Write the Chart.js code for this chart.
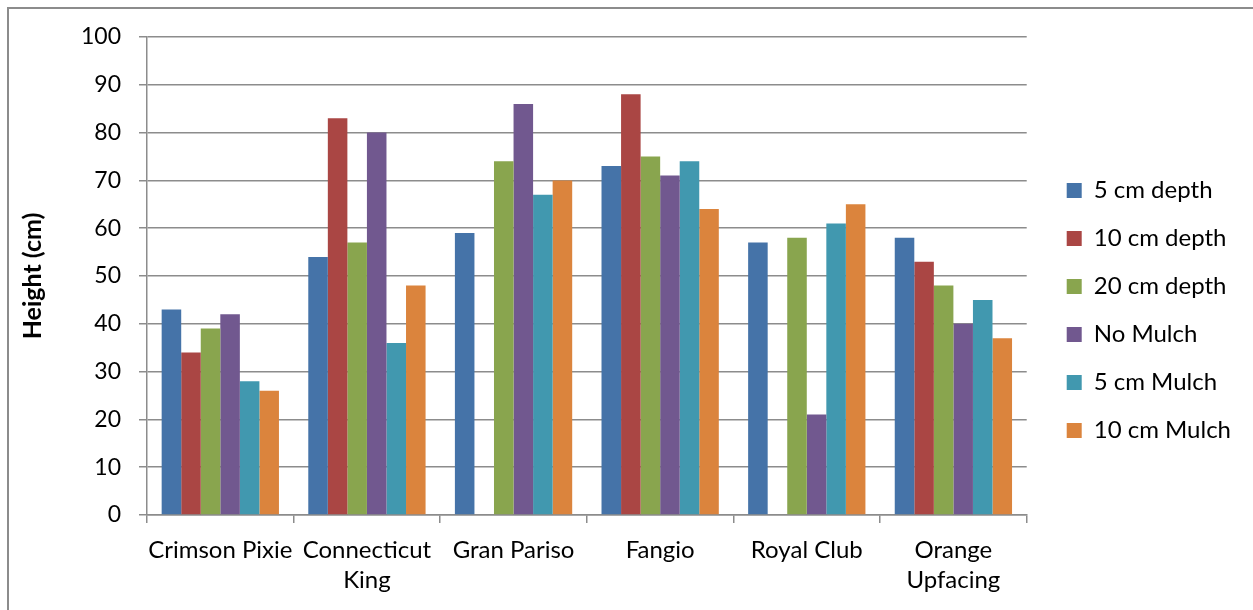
<!DOCTYPE html>
<html>
<head>
<meta charset="utf-8">
<script src="https://cdn.jsdelivr.net/npm/chart.js@4"></script>
<style>
    html, body { margin: 0; padding: 0; background: #fff; }
    #wrap { position: relative; width: 1253px; height: 610px; overflow: hidden; }
    #frame { position: absolute; left: 7px; top: 7px; width: 1300px; height: 700px; border: 2px solid #8c8c8c; }
    canvas { position: absolute; left: 0; top: 0; }
</style>
</head>
<body>
<div id="wrap">
    <div id="frame"></div>
    <canvas id="myChart" width="1253" height="610"></canvas>
</div>
<script>
// 품종 이름 (x축)
const varieties = [
    'Crimson Pixie',
    ['Connecticut', 'King'],
    'Gran Pariso',
    'Fangio',
    'Royal Club',
    ['Orange', 'Upfacing'],
]

// 처리별 높이 (cm), 빈 값은 null
const depth5 = [43, 54, 59, 73, 57, 58]
const depth10 = [34, 83, null, 88, null, 53]
const depth20 = [39, 57, 74, 75, 58, 48]
const noMulch = [42, 80, 86, 71, 21, 40]
const mulch5 = [28, 36, 67, 74, 61, 45]
const mulch10 = [26, 48, 70, 64, 65, 37]

const seriesNames = ['5 cm depth', '10 cm depth', '20 cm depth', 'No Mulch', '5 cm Mulch', '10 cm Mulch']
const yTicks = [0, 10, 20, 30, 40, 50, 60, 70, 80, 90, 100]

const colors = ['#4573A8', '#AA4644', '#89A54E', '#71588F', '#4198AF', '#DB843D']
const allSeries = [depth5, depth10, depth20, noMulch, mulch5, mulch10]

Chart.defaults.font.family = 'Lato, "Open Sans", sans-serif'
Chart.defaults.font.size = 24
Chart.defaults.color = '#000'

const gridColor = '#8c8c8c'

// 범례 위치 살짝 옮기기 (오른쪽으로, 위로)
const legendShift = {
    id: 'legendShift',
    afterLayout: function (chart) {
        const lg = chart.legend
        lg.left += 16
        lg.right += 16
        lg.top -= 13
        lg.bottom -= 13
    },
}

const ctx = document.getElementById('myChart').getContext('2d')
const myChart = new Chart(ctx, {
    type: 'bar',
    data: {
        labels: varieties,
        datasets: seriesNames.map(function (name, i) {
            return {
                label: name,
                data: allSeries[i],
                backgroundColor: colors[i],
                borderWidth: 0,
            }
        }),
    },
    plugins: [legendShift],
    options: {
        responsive: false,
        animation: false,
        layout: {
            padding: { left: 18, top: 37, right: 28, bottom: 0 },
        },
        datasets: {
            bar: {
                categoryPercentage: 0.8,
                barPercentage: 1.0,
            },
        },
        plugins: {
            tooltip: { enabled: false },
            legend: {
                position: 'right',
                labels: {
                    boxWidth: 15,
                    boxHeight: 15,
                    padding: 24,
                    font: { size: 24 },
                },
            },
        },
        scales: {
            x: {
                grid: {
                    drawOnChartArea: false,
                    drawTicks: true,
                    tickLength: 8,
                    color: gridColor,
                    lineWidth: 1.5,
                },
                border: { color: gridColor, width: 1.5 },
                ticks: {
                    padding: 12,
                    maxRotation: 0,
                    autoSkip: false,
                    font: { size: 24, lineHeight: 1.25 },
                },
                afterFit: function (scale) {
                    scale.height = 95
                },
            },
            y: {
                min: 0,
                max: 100,
                afterBuildTicks: function (scale) {
                    scale.ticks = yTicks.map(function (v) { return { value: v } })
                },
                grid: {
                    color: gridColor,
                    lineWidth: 1.5,
                    tickLength: 8,
                },
                border: { color: gridColor, width: 1.5 },
                ticks: {
                    padding: 18,
                    font: { size: 23 },
                },
                title: {
                    display: true,
                    text: 'Height (cm)',
                    font: { size: 25, weight: 'bold' },
                    padding: { top: 0, bottom: 0 },
                },
                afterFit: function (scale) {
                    scale.width = 129
                },
            },
        },
    },
})
</script>
</body>
</html>
